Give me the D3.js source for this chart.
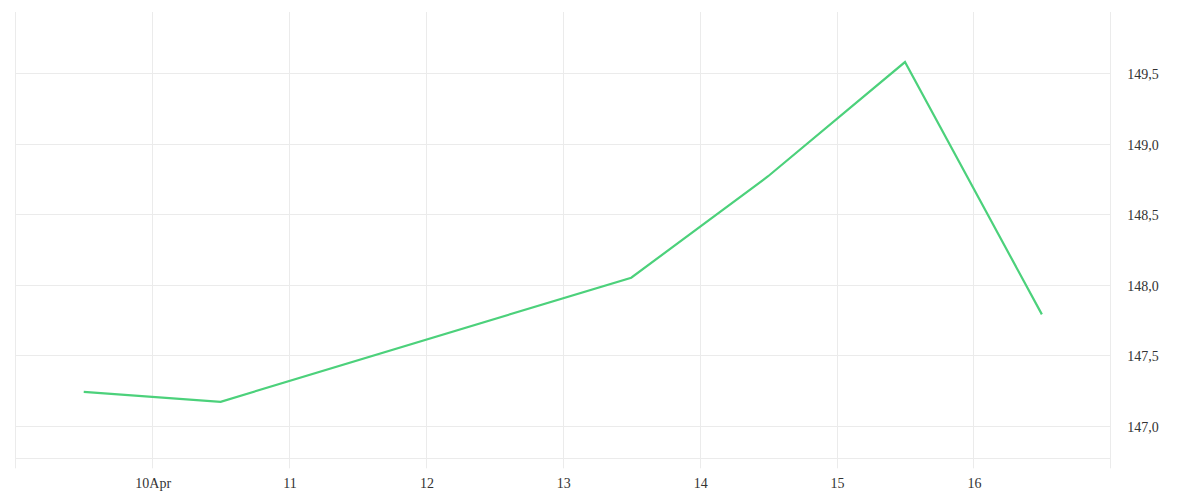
<!DOCTYPE html>
<html>
<head>
<meta charset="utf-8">
<script src="https://cdn.jsdelivr.net/npm/d3@7"></script>
<style>
  body { margin: 0; background: #fff; }
  svg text { font-family: "Liberation Serif", serif; font-size: 14px; fill: #333; }
</style>
</head>
<body>
<svg id="chart" width="1200" height="500"></svg>
<script>
// data
var dates = ["2021-04-09T12:00", "2021-04-10T12:00", "2021-04-13T12:00", "2021-04-14T12:00", "2021-04-15T12:00", "2021-04-16T12:00"];
var prices = [147.24, 147.17, 148.05, 148.77, 149.58, 147.79];
var tickDays = ["2021-04-10", "2021-04-11", "2021-04-12", "2021-04-13", "2021-04-14", "2021-04-15", "2021-04-16"];
var tickLabels = ["10Apr", "11", "12", "13", "14", "15", "16"];
var yTicks = [147.0, 147.5, 148.0, 148.5, 149.0, 149.5];

document.addEventListener("DOMContentLoaded", function(event) {
  var svg = d3.select("#chart"),
      left = 15.3, right = 1110.3,
      top = 12, bottom = 458.3;

  var parse = d3.timeParse("%Y-%m-%dT%H:%M"),
      parseDay = d3.timeParse("%Y-%m-%d");

  var data = dates.map(function(d, i) { return { date: parse(d), value: prices[i] }; });
  var ticks = tickDays.map(parseDay);

  // x runs from 9 Apr to 17 Apr
  var x = d3.scaleTime()
    .domain([parseDay("2021-04-09"), parseDay("2021-04-17")])
    .range([left, right]);

  var y = d3.scaleLinear()
    .domain([146.769, 149.935])
    .range([bottom, top]);

  var grid = "#ebebeb";

  // horizontal grid
  svg.append("g")
    .selectAll("line")
    .data(yTicks)
    .enter().append("line")
    .attr("x1", left).attr("x2", right)
    .attr("y1", function(d) { return Math.round(y(d)) + 0.5; })
    .attr("y2", function(d) { return Math.round(y(d)) + 0.5; })
    .attr("stroke", grid);

  // bottom line
  svg.append("line")
    .attr("x1", left).attr("x2", right)
    .attr("y1", Math.round(bottom) + 0.5).attr("y2", Math.round(bottom) + 0.5)
    .attr("stroke", grid);

  // vertical grid incl. borders
  var xs = [x.domain()[0]].concat(ticks, [x.domain()[1]]);
  svg.append("g")
    .selectAll("line")
    .data(xs)
    .enter().append("line")
    .attr("x1", function(d) { return Math.round(x(d)) + 0.5; })
    .attr("x2", function(d) { return Math.round(x(d)) + 0.5; })
    .attr("y1", top).attr("y2", bottom + 10)
    .attr("stroke", grid);

  // x labels
  svg.append("g")
    .selectAll("text")
    .data(ticks)
    .enter().append("text")
    .attr("x", function(d) { return x(d) + 1; })
    .attr("y", 488)
    .attr("text-anchor", "middle")
    .text(function(d, i) { return tickLabels[i]; });

  // y labels on the right
  svg.append("g")
    .selectAll("text")
    .data(yTicks)
    .enter().append("text")
    .attr("x", right + 17)
    .attr("y", function(d) { return y(d) + 6; })
    .text(function(d) { return d3.format(".1f")(d).replace(".", ","); });

  // the line
  svg.append("path")
    .datum(data)
    .attr("fill", "none")
    .attr("stroke", "#4cd17b")
    .attr("stroke-width", 2.2)
    .attr("stroke-linejoin", "miter")
    .attr("d", d3.line()
      .x(function(d) { return x(d.date); })
      .y(function(d) { return y(d.value); }));
});
</script>
</body>
</html>
